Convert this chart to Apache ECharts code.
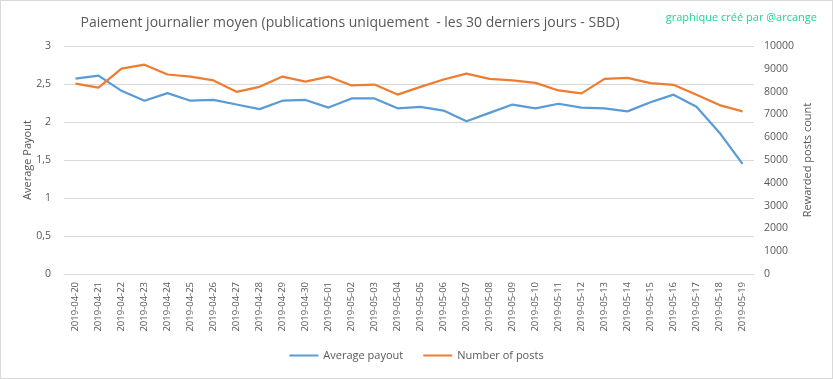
<!DOCTYPE html>
<html><head><meta charset="utf-8">
<script src="https://cdn.jsdelivr.net/npm/echarts@6/dist/echarts.min.js"></script>
<style>html,body{margin:0;padding:0;background:#fff}#c{width:831px;height:377px;border:1px solid #d9d9d9}</style>
</head><body><div id="c"></div>
<script>
const categories = ["2019-04-20","2019-04-21","2019-04-22","2019-04-23","2019-04-24","2019-04-25","2019-04-26","2019-04-27","2019-04-28","2019-04-29","2019-04-30","2019-05-01","2019-05-02","2019-05-03","2019-05-04","2019-05-05","2019-05-06","2019-05-07","2019-05-08","2019-05-09","2019-05-10","2019-05-11","2019-05-12","2019-05-13","2019-05-14","2019-05-15","2019-05-16","2019-05-17","2019-05-18","2019-05-19"];
const averagePayout = [2.57,2.61,2.41,2.28,2.38,2.28,2.29,2.23,2.17,2.28,2.29,2.19,2.31,2.31,2.18,2.2,2.15,2.01,2.12,2.23,2.18,2.24,2.19,2.18,2.14,2.26,2.36,2.2,1.86,1.45];
const numberOfPosts = [8350,8170,9010,9180,8750,8660,8490,7990,8210,8660,8440,8660,8270,8310,7870,8210,8530,8790,8560,8490,8380,8050,7920,8560,8600,8370,8300,7860,7410,7130];
const leftTicks = {min:0,max:3,interval:0.5};
const rightTicks = {min:0,max:10000,interval:1000};

const txt = '#595959';
const font = 'Open Sans';
const chart = echarts.init(document.getElementById('c'));
chart.setOption({
  animation:false,
  textStyle:{fontFamily:font},
  title:[
    {text:'Paiement journalier moyen (publications uniquement  - les 30 derniers jours - SBD)',left:344,top:10,textAlign:'center',textStyle:{fontFamily:font,fontSize:14,fontWeight:'normal',color:txt}},
    {text:'graphique créé par @arcange',right:10,top:6,textStyle:{fontFamily:font,fontSize:11,fontWeight:'normal',color:'#1fd39a'}}
  ],
  legend:{bottom:12,left:'center',itemWidth:29,itemHeight:2,itemGap:20,icon:'rect',textStyle:{fontFamily:font,fontSize:11,color:txt},
    data:['Average payout','Number of posts']},
  grid:{left:63,right:78,top:45,bottom:104},
  xAxis:{type:'category',data:categories,boundaryGap:true,
    axisLine:{lineStyle:{color:'#d9d9d9'}},axisTick:{show:false},
    axisLabel:{rotate:90,fontSize:9.5,color:txt,interval:0,margin:8}},
  yAxis:[
    {type:'value',min:leftTicks.min,max:leftTicks.max,interval:leftTicks.interval,name:'Average Payout',nameLocation:'middle',nameGap:31,nameRotate:90,nameMoveOverlap:false,
     nameTextStyle:{fontSize:11,color:txt,fontFamily:font},
     axisLabel:{fontSize:10.5,color:txt,margin:13,formatter:v=>String(v).replace('.',',')},
     axisLine:{show:false},axisTick:{show:false},splitLine:{lineStyle:{color:'#d9d9d9'}}},
    {type:'value',min:rightTicks.min,max:rightTicks.max,interval:rightTicks.interval,name:'Rewarded posts count',nameLocation:'middle',nameGap:48,nameRotate:90,nameMoveOverlap:false,
     nameTextStyle:{fontSize:11,color:txt,fontFamily:font},
     axisLabel:{fontSize:10.5,color:txt,margin:10,formatter:v=>String(v)},
     axisLine:{show:false},axisTick:{show:false},splitLine:{show:false}}
  ],
  series:[
    {name:'Average payout',type:'line',data:averagePayout,yAxisIndex:0,symbol:'none',lineStyle:{width:2.25,color:'#5b9bd5'},itemStyle:{color:'#5b9bd5'}},
    {name:'Number of posts',type:'line',data:numberOfPosts,yAxisIndex:1,symbol:'none',lineStyle:{width:2.25,color:'#ed7d31'},itemStyle:{color:'#ed7d31'}}
  ]
});
</script></body></html>
